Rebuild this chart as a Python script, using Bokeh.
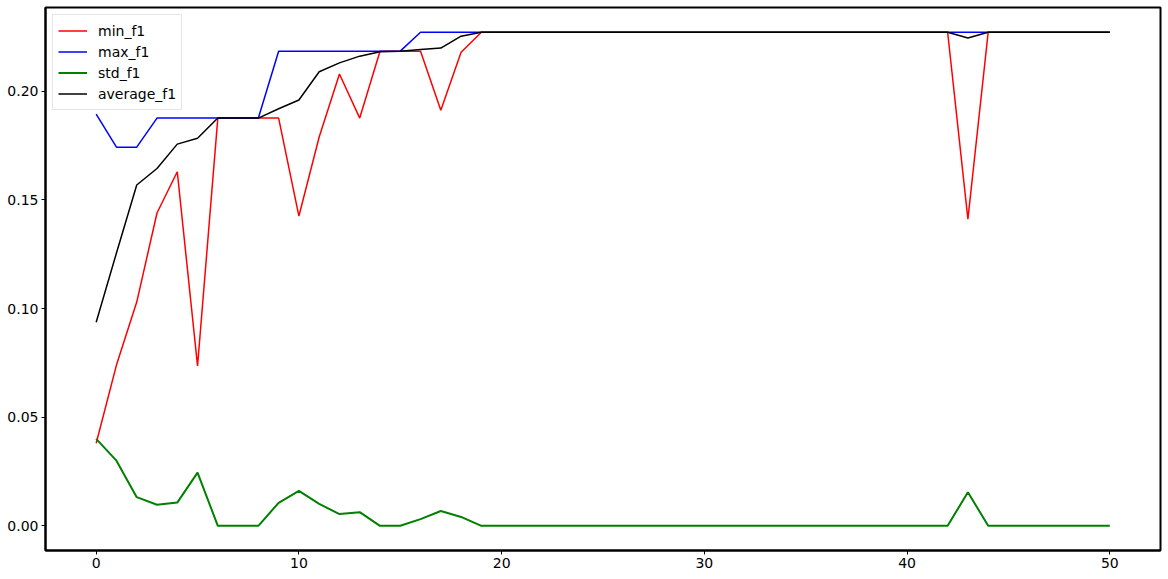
from bokeh.plotting import figure
from bokeh.embed import file_html
from bokeh.resources import INLINE
from bokeh.models import Range1d, FixedTicker, NumeralTickFormatter, Legend, LegendItem

epochs = list(range(51))

min_f1 = [0.038, 0.074, 0.103, 0.144, 0.163, 0.0736, 0.1877, 0.1877, 0.1877, 0.1877,
          0.1426, 0.179, 0.208, 0.1877, 0.2185, 0.2185, 0.2185, 0.1913, 0.218, 0.2272,
          0.2272, 0.2272, 0.2272, 0.2272, 0.2272, 0.2272, 0.2272, 0.2272, 0.2272, 0.2272,
          0.2272, 0.2272, 0.2272, 0.2272, 0.2272, 0.2272, 0.2272, 0.2272, 0.2272, 0.2272,
          0.2272, 0.2272, 0.2272, 0.1412, 0.2272, 0.2272, 0.2272, 0.2272, 0.2272, 0.2272,
          0.2272]

max_f1 = [0.1895, 0.1743, 0.1743, 0.1877, 0.1877, 0.1877, 0.1877, 0.1877, 0.1877, 0.2185,
          0.2185, 0.2185, 0.2185, 0.2185, 0.2185, 0.2185, 0.2272, 0.2272, 0.2272, 0.2272,
          0.2272, 0.2272, 0.2272, 0.2272, 0.2272, 0.2272, 0.2272, 0.2272, 0.2272, 0.2272,
          0.2272, 0.2272, 0.2272, 0.2272, 0.2272, 0.2272, 0.2272, 0.2272, 0.2272, 0.2272,
          0.2272, 0.2272, 0.2272, 0.2272, 0.2272, 0.2272, 0.2272, 0.2272, 0.2272, 0.2272,
          0.2272]

std_f1 = [0.040, 0.030, 0.0132, 0.0097, 0.0107, 0.0245, 0.0, 0.0, 0.0, 0.0106,
          0.0161, 0.0101, 0.0054, 0.0063, 0.0, 0.0, 0.0031, 0.0068, 0.0041, 0.0,
          0.0, 0.0, 0.0, 0.0, 0.0, 0.0, 0.0, 0.0, 0.0, 0.0,
          0.0, 0.0, 0.0, 0.0, 0.0, 0.0, 0.0, 0.0, 0.0, 0.0,
          0.0, 0.0, 0.0, 0.0155, 0.0, 0.0, 0.0, 0.0, 0.0, 0.0,
          0.0]

average_f1 = [0.0937, 0.1256, 0.1569, 0.1645, 0.1757, 0.1784, 0.1877, 0.1877, 0.1877, 0.192,
              0.196, 0.209, 0.2131, 0.2162, 0.2182, 0.2185, 0.2193, 0.2199, 0.2254, 0.2272,
              0.2272, 0.2272, 0.2272, 0.2272, 0.2272, 0.2272, 0.2272, 0.2272, 0.2272, 0.2272,
              0.2272, 0.2272, 0.2272, 0.2272, 0.2272, 0.2272, 0.2272, 0.2272, 0.2272, 0.2272,
              0.2272, 0.2272, 0.2272, 0.2246, 0.2272, 0.2272, 0.2272, 0.2272, 0.2272, 0.2272,
              0.2272]

x_ticks = [0, 10, 20, 30, 40, 50]
y_ticks = [0.0, 0.05, 0.10, 0.15, 0.20]

FONT = "DejaVu Sans"

p = figure(frame_width=1115, frame_height=543, output_backend="svg", toolbar_location=None,
           x_range=Range1d(-2.5, 52.5), y_range=Range1d(-0.01136, 0.2386),
           min_border_top=7, min_border_right=3, min_border_left=45, min_border_bottom=0)

p.grid.visible = False
p.outline_line_color = "black"
p.outline_line_width = 2
p.background_fill_color = "white"
p.border_fill_color = "white"

for ax in (p.xaxis[0], p.yaxis[0]):
    ax.axis_line_color = "black"
    ax.axis_line_width = 2
    ax.major_tick_line_color = "black"
    ax.major_tick_line_width = 1
    ax.major_tick_out = 4
    ax.major_tick_in = 0
    ax.minor_tick_line_color = None
    ax.major_label_text_font = FONT
    ax.major_label_text_font_size = "14px"
    ax.major_label_text_color = "black"
    ax.major_label_standoff = 3

p.xaxis[0].ticker = FixedTicker(ticks=x_ticks)
p.yaxis[0].ticker = FixedTicker(ticks=y_ticks)
p.yaxis[0].formatter = NumeralTickFormatter(format="0.00")

r_min = p.line(epochs, min_f1, line_color="red", line_width=1.5)
r_max = p.line(epochs, max_f1, line_color="blue", line_width=1.5)
r_std = p.line(epochs, std_f1, line_color="green", line_width=2)
r_avg = p.line(epochs, average_f1, line_color="black", line_width=1.5)

legend = Legend(items=[
    LegendItem(label="min_f1", renderers=[r_min]),
    LegendItem(label="max_f1", renderers=[r_max]),
    LegendItem(label="std_f1", renderers=[r_std]),
    LegendItem(label="average_f1", renderers=[r_avg]),
], location="top_left")
legend.label_text_font = FONT
legend.label_text_font_size = "14px"
legend.label_text_color = "black"
legend.glyph_width = 29
legend.glyph_height = 21
legend.label_height = 21
legend.spacing = 0
legend.padding = 5
legend.margin = 7
legend.label_standoff = 11
legend.border_line_color = "#cccccc"
legend.border_line_width = 1
legend.background_fill_alpha = 0.8
p.add_layout(legend)

open("out.html", "w").write(file_html(p, INLINE))
